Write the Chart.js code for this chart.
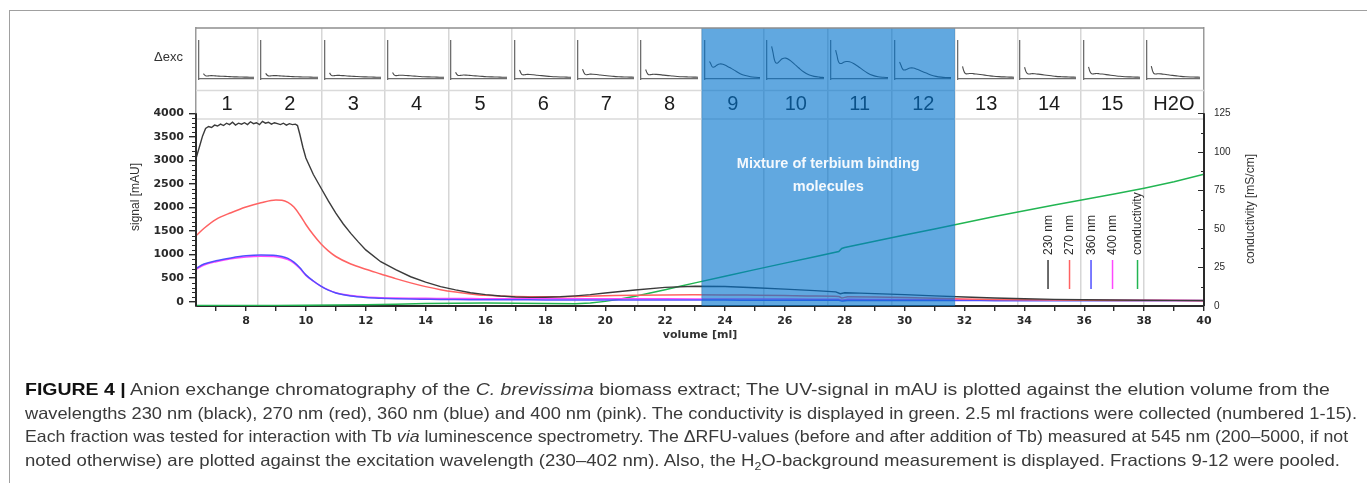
<!DOCTYPE html>
<html>
<head>
<meta charset="utf-8">
<title>Anion exchange chromatography – C. brevissima</title>
<script src="https://cdn.jsdelivr.net/npm/chart.js@4.4.1/dist/chart.umd.min.js"></script>
<style>
  html, body { margin: 0; padding: 0; background: #fff; }
  body { width: 1367px; height: 483px; position: relative; overflow: hidden;
         font-family: "Liberation Sans", Arial, sans-serif; }
  #frame { position: absolute; left: 9px; top: 10px; width: 1420px; height: 520px;
           border-left: 1.5px solid #a0a0a0; border-top: 1.5px solid #a0a0a0; }
  #main { position: absolute; left: 0; top: 0; z-index: 2; }
  .inset { position: absolute; z-index: 1; }
  #caption { position: absolute; left: 25px; top: 378px; z-index: 3; color: #3a3a3a; font-size: 16.5px; }
  #caption div { white-space: nowrap; height: 23.5px; line-height: 23.5px; }
  #caption span.line { display: inline-block; transform-origin: 0 50%; }
  #caption b { color: #111; }
</style>
</head>
<body>
<div id="frame"></div>
<div id="insets"></div>
<canvas id="main" width="1367" height="483"></canvas>
<div id="caption">
  <div><span class="line"><b>FIGURE 4 |</b> Anion exchange chromatography of the <i>C. brevissima</i> biomass extract; The UV-signal in mAU is plotted against the elution volume from the</span></div>
  <div><span class="line">wavelengths 230 nm (black), 270 nm (red), 360 nm (blue) and 400 nm (pink). The conductivity is displayed in green. 2.5 ml fractions were collected (numbered 1-15).</span></div>
  <div><span class="line">Each fraction was tested for interaction with Tb <i>via</i> luminescence spectrometry. The ΔRFU-values (before and after addition of Tb) measured at 545 nm (200–5000, if not</span></div>
  <div><span class="line">noted otherwise) are plotted against the excitation wavelength (230–402 nm). Also, the H<sub style="font-size:11px">2</sub>O-background measurement is displayed. Fractions 9-12 were pooled.</span></div>
</div>
<script>
// ---------- fractions ----------
const fractionLabels = ['1','2','3','4','5','6','7','8','9','10','11','12','13','14','15','H2O'];
const fractionEdges = [6.33, 8.4, 10.53, 12.64, 14.76, 16.87, 18.99, 21.08, 23.22, 25.3, 27.43, 29.57, 31.68, 33.77, 35.88, 37.99, 40];
const pooledFractions = [9, 12];

// ---------- axis ticks ----------
const signalTicks = [0, 500, 1000, 1500, 2000, 2500, 3000, 3500, 4000];
const conductivityTicks = [0, 25, 50, 75, 100, 125];
const volumeTicks = [7, 8, 9, 10, 11, 12, 13, 14, 15, 16, 17, 18, 19, 20, 21, 22, 23, 24, 25, 26, 27, 28, 29, 30, 31, 32, 33, 34, 35, 36, 37, 38, 39, 40];

// ---------- UV 230 nm ----------
const volume230 = [6.33, 6.45, 6.55, 6.65, 6.75, 6.85, 6.95, 7.05, 7.15, 7.25, 7.35, 7.45, 7.55, 7.65, 7.75, 7.85, 7.95, 8.05, 8.15, 8.25,
  8.35, 8.45, 8.55, 8.65, 8.75, 8.85, 8.95, 9.05, 9.15, 9.25, 9.35, 9.45, 9.55, 9.65, 9.72, 9.8, 9.9, 10.0, 10.25, 10.5,
  10.75, 11.0, 11.25, 11.5, 11.75, 12.0, 12.5, 13, 13.5, 14, 14.5, 15, 15.5, 16, 16.5, 17, 17.5, 18, 18.5, 19,
  19.5, 20, 21, 22, 23, 24, 25, 26, 27, 27.7, 27.85, 28.0, 28.5, 29, 29.5, 30, 31, 32, 33, 34, 35, 36, 37, 38, 39, 40];
const signal230 = [3040, 3300, 3520, 3680, 3720, 3700, 3750, 3730, 3770, 3740, 3790, 3760, 3810, 3750, 3790, 3770, 3800, 3760, 3820, 3780,
  3800, 3760, 3830, 3790, 3810, 3770, 3800, 3780, 3760, 3790, 3750, 3780, 3760, 3770, 3740, 3550, 3280, 3050, 2700, 2420,
  2140, 1880, 1650, 1450, 1270, 1100, 850, 680, 530, 415, 320, 250, 190, 150, 120, 100, 92, 95, 105, 125,
  150, 185, 250, 305, 328, 322, 298, 268, 235, 210, 170, 190, 183, 172, 162, 150, 125, 100, 78, 62, 50, 42, 36, 32, 28, 25];

// ---------- UV 270 / 360 / 400 nm ----------
const volumeUv = [6.33, 6.6, 7.0, 7.5, 8.0, 8.5, 9.0, 9.2, 9.4, 9.6, 9.8, 10.0, 10.25, 10.5, 10.75, 11.0, 11.5, 12.0, 12.5, 13,
  13.5, 14, 14.5, 15, 15.5, 16, 17, 18, 19, 20, 21, 22, 23, 24, 25, 26, 27, 27.8, 27.9, 28.1,
  29, 30, 31, 32, 33, 34, 35, 36, 38, 40];
const signal270 = [1400, 1560, 1750, 1890, 2010, 2100, 2160, 2155, 2110, 2010, 1840, 1640, 1420, 1230, 1080, 960, 800, 690, 590, 490,
  400, 320, 255, 205, 165, 135, 110, 105, 112, 125, 138, 145, 148, 145, 138, 130, 120, 112, 80, 105,
  100, 90, 75, 60, 48, 40, 34, 30, 25, 22];
const signal360 = [710, 800, 870, 930, 975, 990, 980, 960, 920, 840, 720, 570, 440, 330, 245, 185, 120, 88, 72, 62,
  56, 52, 48, 46, 44, 42, 40, 38, 37, 36, 36, 36, 35, 34, 33, 32, 31, 30, 15, 28,
  27, 26, 25, 24, 23, 22, 22, 21, 20, 20];
const signal400 = [690, 780, 850, 910, 950, 965, 955, 935, 895, 820, 705, 560, 435, 330, 250, 190, 130, 100, 85, 78,
  74, 71, 69, 67, 66, 65, 64, 63, 62, 62, 62, 61, 60, 59, 58, 56, 54, 52, 38, 50,
  48, 46, 43, 40, 37, 35, 33, 32, 30, 28];

// ---------- conductivity ----------
const volumeCond = [6.33, 7, 8, 9, 10, 11, 12, 13, 14, 15, 16, 17, 18, 19, 19.5, 20, 20.5, 21, 21.5, 22,
  22.5, 23, 24, 25, 26, 27, 27.8, 27.9, 28, 29, 30, 31, 32, 33, 34, 35, 36, 37, 38, 39, 40];
const conductivity = [0.3, 0.3, 0.4, 0.4, 0.5, 0.6, 0.8, 1.2, 1.6, 1.8, 1.9, 1.8, 1.6, 1.5, 2.0, 3.0, 4.5, 6.3, 8.4, 10.6,
  12.8, 15.0, 19.3, 23.6, 27.8, 32.0, 35.3, 37.3, 37.9, 42.0, 46.0, 50.0, 54.0, 58.0, 61.8, 65.5, 69.0, 72.6, 76.4, 80.6, 85.5];

// ---------- ΔRFU excitation scans per fraction ----------
const excitationWl = [244, 248, 252, 256, 262, 268, 276, 286, 298, 312, 326, 340, 356, 372, 388, 402];
const rfuF1  = [140, 100, 80, 78, 84, 88, 86, 80, 74, 68, 62, 57, 53, 50, 48, 46];
const rfuF2  = [150, 105, 82, 80, 86, 90, 88, 82, 76, 69, 63, 58, 54, 51, 48, 46];
const rfuF3  = [160, 110, 88, 86, 92, 96, 94, 88, 80, 72, 65, 59, 55, 51, 48, 46];
const rfuF4  = [170, 115, 92, 90, 96, 100, 98, 92, 84, 75, 67, 60, 55, 51, 48, 46];
const rfuF5  = [180, 120, 95, 92, 98, 104, 102, 95, 86, 77, 68, 61, 56, 52, 48, 46];
const rfuF6  = [240, 160, 115, 108, 115, 122, 120, 112, 100, 88, 76, 66, 58, 53, 49, 46];
const rfuF7  = [260, 170, 120, 112, 120, 128, 126, 118, 105, 92, 79, 68, 60, 54, 50, 47];
const rfuF8  = [250, 165, 118, 110, 118, 125, 122, 114, 102, 90, 77, 67, 59, 54, 50, 47];
const rfuF9  = [460, 400, 330, 310, 330, 370, 395, 390, 345, 280, 210, 140, 90, 60, 45, 38];
const rfuF10 = [860, 700, 520, 430, 420, 470, 530, 550, 500, 400, 290, 190, 110, 70, 50, 40];
const rfuF11 = [760, 620, 470, 415, 410, 440, 460, 455, 410, 330, 240, 160, 95, 60, 45, 38];
const rfuF12 = [450, 370, 280, 240, 240, 265, 290, 290, 255, 205, 155, 105, 70, 50, 40, 35];
const rfuF13 = [330, 210, 150, 135, 140, 146, 142, 132, 118, 102, 86, 72, 62, 55, 50, 47];
const rfuF14 = [310, 200, 145, 130, 136, 142, 138, 128, 114, 99, 84, 70, 61, 55, 50, 47];
const rfuF15 = [320, 205, 148, 133, 138, 144, 140, 130, 116, 100, 85, 71, 61, 55, 50, 47];
const rfuH2O = [340, 215, 150, 132, 135, 138, 134, 124, 110, 96, 82, 69, 60, 54, 50, 47];
const insetSeries = [rfuF1, rfuF2, rfuF3, rfuF4, rfuF5, rfuF6, rfuF7, rfuF8, rfuF9, rfuF10, rfuF11, rfuF12, rfuF13, rfuF14, rfuF15, rfuH2O];

// ---------- helpers ----------
const pairs = (xs, ys) => xs.map((v, i) => ({ x: v, y: ys[i] }));
const plain = v => String(v);
const SANS = '"Liberation Sans", Arial, sans-serif';
const DEJAVU = '"DejaVu Sans", Verdana, sans-serif';

// panel geometry (canvas pixels)
const PANEL_DIVIDERS = [90.5, 119];
const LABEL_ROW_Y = 104;

const figurePlugin = {
  id: 'figureDecor',
  beforeDatasetsDraw(chart) {
    const { ctx, chartArea: a, scales: { x } } = chart;
    ctx.save();
    // separators of the scan panel and the fraction-number row
    ctx.strokeStyle = '#dadada';
    ctx.lineWidth = 1.5;
    PANEL_DIVIDERS.forEach(py => {
      ctx.beginPath(); ctx.moveTo(a.left, py); ctx.lineTo(a.right, py); ctx.stroke();
    });
    // fraction numbers
    ctx.fillStyle = '#1c1c1c';
    ctx.font = '20px ' + SANS;
    ctx.textAlign = 'center';
    ctx.textBaseline = 'middle';
    fractionLabels.forEach((lab, i) => {
      const cx = (x.getPixelForValue(fractionEdges[i]) + x.getPixelForValue(fractionEdges[i + 1])) / 2;
      ctx.fillText(lab, cx, LABEL_ROW_Y);
    });
    ctx.restore();
  },
  afterDatasetsDraw(chart) {
    const { ctx, chartArea: a, scales: { x } } = chart;
    ctx.save();
    // pooled fractions highlight
    const x0 = x.getPixelForValue(fractionEdges[pooledFractions[0] - 1]);
    const x1 = x.getPixelForValue(fractionEdges[pooledFractions[1]]);
    ctx.fillStyle = 'rgba(0,115,205,0.62)';
    ctx.fillRect(x0, a.top, x1 - x0, a.bottom - a.top);
    ctx.fillStyle = 'rgba(255,255,255,0.93)';
    ctx.font = 'bold 14.5px ' + SANS;
    ctx.textAlign = 'center';
    ctx.textBaseline = 'middle';
    const cx = (x0 + x1) / 2;
    ctx.fillText('Mixture of terbium binding', cx, 164);
    ctx.fillText('molecules', cx, 187);

    // vertical legend
    const lx0 = x.getPixelForValue(34.79);
    chart.data.datasets.forEach((ds, i) => {
      const lx = lx0 + i * 21.5 + (i === 4 ? 3.5 : 0);
      ctx.strokeStyle = ds.borderColor;
      ctx.lineWidth = 1.5;
      ctx.beginPath(); ctx.moveTo(lx, 260); ctx.lineTo(lx, 289); ctx.stroke();
      ctx.save();
      ctx.translate(lx + 0.5, 255);
      ctx.rotate(-Math.PI / 2);
      ctx.fillStyle = '#2e2e2e';
      ctx.font = '12px ' + SANS;
      ctx.textAlign = 'left';
      ctx.textBaseline = 'middle';
      ctx.fillText(ds.label, 0, 0);
      ctx.restore();
    });
    ctx.restore();
  },
  afterDraw(chart) {
    const { ctx, chartArea: a, scales: { y, y2 } } = chart;
    ctx.save();
    // panel top border
    ctx.strokeStyle = '#8e8e8e';
    ctx.lineWidth = 1.5;
    ctx.beginPath(); ctx.moveTo(a.left, a.top); ctx.lineTo(a.right, a.top); ctx.stroke();
    // dark value-axis lines
    ctx.strokeStyle = '#2a2a2a';
    ctx.lineWidth = 2;
    ctx.beginPath();
    ctx.moveTo(a.left, y.getPixelForValue(4000)); ctx.lineTo(a.left, a.bottom);
    ctx.moveTo(a.right, y2.getPixelForValue(125)); ctx.lineTo(a.right, a.bottom);
    ctx.stroke();
    // minor ticks on the signal axis
    ctx.lineWidth = 1.2;
    ctx.beginPath();
    for (let v = 100; v < 4000; v += 100) {
      if (v % 500 === 0) continue;
      const py = Math.round(y.getPixelForValue(v)) + 0.5;
      ctx.moveTo(a.left - 4, py); ctx.lineTo(a.left, py);
    }
    // inward ticks on the conductivity axis
    for (let v = 0; v <= 125; v += 12.5) {
      const py = Math.round(y2.getPixelForValue(v)) + 0.5;
      const len = v % 25 === 0 ? 6 : 3;
      ctx.moveTo(a.right - len, py); ctx.lineTo(a.right, py);
    }
    ctx.stroke();

    // axis titles
    ctx.fillStyle = '#333';
    ctx.font = '12px ' + SANS;
    ctx.textAlign = 'center';
    ctx.textBaseline = 'middle';
    ctx.save(); ctx.translate(135.5, 197); ctx.rotate(-Math.PI / 2); ctx.fillText('signal [mAU]', 0, 0); ctx.restore();
    ctx.save(); ctx.translate(1251, 209); ctx.rotate(-Math.PI / 2); ctx.fillText('conductivity [mS/cm]', 0, 0); ctx.restore();
    ctx.font = 'bold 11px ' + DEJAVU;
    ctx.fillText('volume [ml]', (a.left + a.right) / 2, 335);
    ctx.font = '13px ' + SANS;
    ctx.textAlign = 'right';
    ctx.fillText('\u0394exc', 183, 57);
    ctx.restore();
  }
};

const lineStyle = { pointRadius: 0, borderWidth: 1.5, fill: false };

const chart = new Chart(document.getElementById('main'), {
  type: 'line',
  data: {
    datasets: [
      { ...lineStyle, label: '230 nm', data: pairs(volume230, signal230), borderColor: '#3b3b3b', borderWidth: 1.4, tension: 0, yAxisID: 'y' },
      { ...lineStyle, label: '270 nm', data: pairs(volumeUv, signal270), borderColor: '#ff6262', cubicInterpolationMode: 'monotone', yAxisID: 'y' },
      { ...lineStyle, label: '360 nm', data: pairs(volumeUv, signal360), borderColor: '#5050ff', cubicInterpolationMode: 'monotone', yAxisID: 'y' },
      { ...lineStyle, label: '400 nm', data: pairs(volumeUv, signal400), borderColor: '#ff48ff', cubicInterpolationMode: 'monotone', yAxisID: 'y' },
      { ...lineStyle, label: 'conductivity', data: pairs(volumeCond, conductivity), borderColor: '#22b552', tension: 0, yAxisID: 'y2' }
    ]
  },
  options: {
    responsive: false,
    animation: false,
    events: [],
    layout: { padding: { top: 28, left: 0, right: 0, bottom: 0 } },
    plugins: { legend: { display: false }, tooltip: { enabled: false } },
    scales: {
      x: {
        type: 'linear', position: 'bottom', min: 6.33, max: 40,
        afterBuildTicks: s => { s.ticks = volumeTicks.map(v => ({ value: v })); },
        afterFit: s => { s.height = 177; },
        grid: { display: true, drawOnChartArea: false, drawTicks: true, tickLength: 5, color: '#2a2a2a', lineWidth: 1.4 },
        border: { display: true, color: '#2a2a2a', width: 2 },
        ticks: { autoSkip: false, maxRotation: 0, padding: 4, color: '#2a2a2a',
                 font: { family: DEJAVU, size: 11, weight: 'bold' },
                 callback: v => (v % 2 === 0 ? String(v) : '') }
      },
      xf: {
        type: 'linear', position: 'top', min: 6.33, max: 40,
        afterBuildTicks: s => { s.ticks = fractionEdges.slice(1, -1).map(v => ({ value: v })); },
        afterFit: s => { s.height = 0; },
        grid: { display: true, drawOnChartArea: true, drawTicks: false, color: '#d6d6d6', lineWidth: 1.5 },
        border: { display: false },
        ticks: { display: false }
      },
      y: {
        type: 'linear', position: 'left', min: -91, max: 5811,
        afterBuildTicks: s => { s.ticks = signalTicks.map(v => ({ value: v })); },
        afterFit: s => { s.width = 196; },
        grid: { display: true, drawOnChartArea: false, drawTicks: true, tickLength: 7, color: '#2a2a2a', lineWidth: 1.4 },
        border: { display: true, color: '#9a9a9a', width: 1.5 },
        ticks: { autoSkip: false, padding: 5, color: '#2a2a2a', font: { family: DEJAVU, size: 11, weight: 'bold' }, callback: plain }
      },
      y2: {
        type: 'linear', position: 'right', min: 0, max: 180.3,
        afterBuildTicks: s => { s.ticks = conductivityTicks.map(v => ({ value: v })); },
        afterFit: s => { s.width = 163; },
        grid: { display: false, drawOnChartArea: false, drawTicks: false },
        border: { display: true, color: '#9a9a9a', width: 1.5 },
        ticks: { autoSkip: false, padding: 10, color: '#2a2a2a', font: { family: SANS, size: 10 }, callback: plain }
      }
    }
  },
  plugins: [figurePlugin]
});

// ---------- excitation-scan insets, one per fraction column ----------
const xs = chart.scales.x;
const insetHost = document.getElementById('insets');
insetSeries.forEach((values, i) => {
  const L = xs.getPixelForValue(fractionEdges[i]);
  const R = xs.getPixelForValue(fractionEdges[i + 1]);
  const c = document.createElement('canvas');
  c.className = 'inset';
  c.width = Math.round(R - L - 6);
  c.height = 42;
  c.style.left = Math.round(L + 2) + 'px';
  c.style.top = '39px';
  insetHost.appendChild(c);
  new Chart(c, {
    type: 'line',
    data: { datasets: [{ data: pairs(excitationWl, values), borderColor: '#4a4a4a', borderWidth: 1.1, pointRadius: 0, tension: 0.35, fill: false }] },
    options: {
      responsive: false, animation: false, events: [],
      layout: { padding: { left: 1, top: 2, right: 0, bottom: 2 } },
      plugins: { legend: { display: false }, tooltip: { enabled: false } },
      scales: {
        x: { type: 'linear', min: 230, max: 402, grid: { display: false, drawTicks: false }, ticks: { display: false }, border: { color: '#6e6e6e', width: 1.3 } },
        y: { type: 'linear', min: 0, max: 1000, grid: { display: false, drawTicks: false }, ticks: { display: false }, border: { color: '#6e6e6e', width: 1.3 } }
      }
    }
  });
});

// ---------- caption line widths ----------
const captionWidths = [1305, 1332, 1323, 1315];
document.querySelectorAll('#caption span.line').forEach((s, i) => {
  const w = s.getBoundingClientRect().width;
  s.style.transform = 'scaleX(' + (captionWidths[i] / w).toFixed(4) + ')';
});
</script>
</body>
</html>
